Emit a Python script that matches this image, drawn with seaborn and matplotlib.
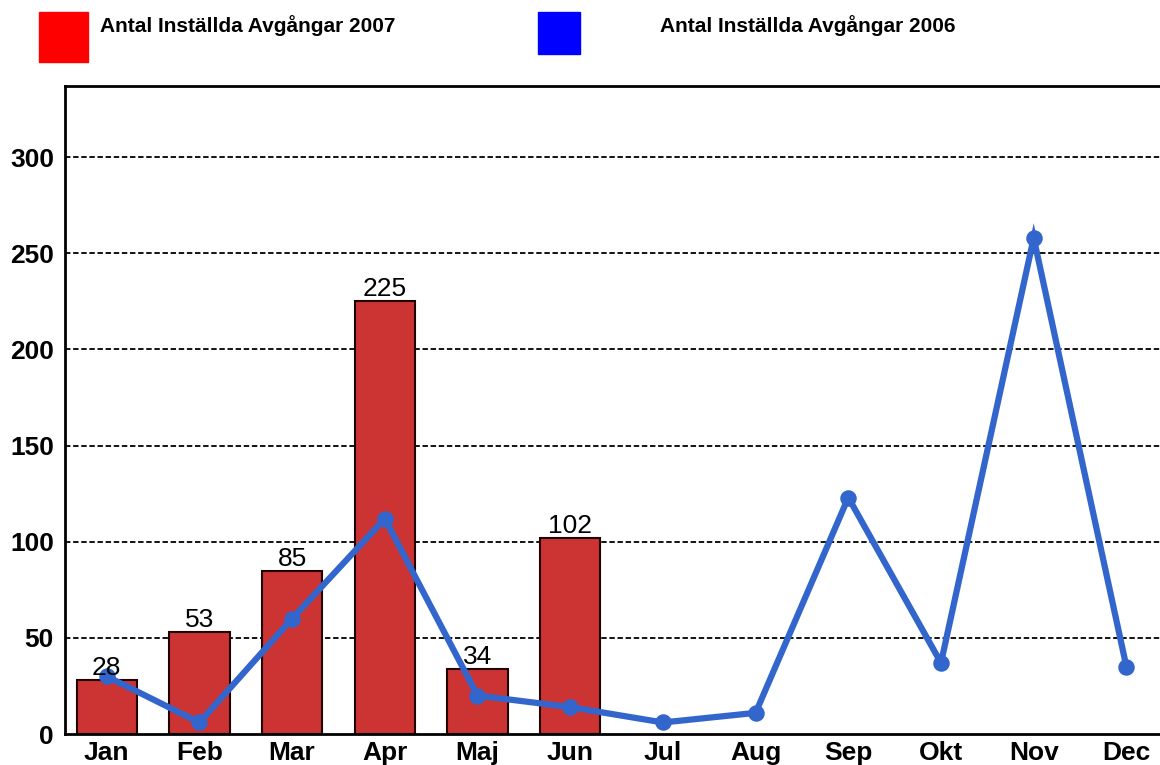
import matplotlib
matplotlib.use("Agg")
import matplotlib.pyplot as plt
import seaborn as sns
import pandas as pd
from matplotlib.patches import Rectangle

months = ["Jan", "Feb", "Mar", "Apr", "Maj", "Jun", "Jul", "Aug", "Sep", "Okt", "Nov", "Dec"]
months_2007 = ["Jan", "Feb", "Mar", "Apr", "Maj", "Jun"]
cancelled_2007 = [28, 53, 85, 225, 34, 102]
cancelled_2006 = [30, 6, 60, 112, 20, 14, 6, 11, 123, 37, 258, 35]
yticks = [0, 50, 100, 150, 200, 250, 300]

sns.set_style("white")
plt.rcParams["font.family"] = ["Liberation Sans", "DejaVu Sans"]
plt.rcParams["text.color"] = "black"
plt.rcParams["xtick.color"] = "black"
plt.rcParams["ytick.color"] = "black"

df07 = pd.DataFrame({"month": months_2007, "value": cancelled_2007})
df06 = pd.DataFrame({"month": months, "value": cancelled_2006})

fig = plt.figure(figsize=(11.6, 7.65), dpi=100)
ax = fig.add_axes([0.056, 0.0405, 0.951, 0.847])

sns.barplot(data=df07, x="month", y="value", order=months, color="#CC3333",
            saturation=1, width=0.65, edgecolor="#220000", linewidth=1.5, ax=ax)
ax.bar_label(ax.containers[0], fontsize=19, padding=0, color="black")

sns.pointplot(data=df06, x="month", y="value", order=months, color="#3366CC",
              markers="o", markersize=8.5, linewidth=4.5, ax=ax)
for ln in ax.lines:
    ln.set_solid_joinstyle("miter")

ax.set_xlim(-0.45, 11.45)
ax.set_ylim(0, 337)
ax.set_yticks(yticks)
ax.set_xlabel("")
ax.set_ylabel("")
for y in yticks[1:]:
    ax.axhline(y, color="black", linestyle=(0, (3, 1.5)), linewidth=1.3, zorder=0.5)

ax.tick_params(axis="y", length=5, width=1.2, pad=3, labelsize=19, colors="black")
ax.tick_params(axis="x", length=0, pad=5, labelsize=19, colors="black")
for lab in ax.get_xticklabels() + ax.get_yticklabels():
    lab.set_fontweight("bold")
for side in ["left", "top", "bottom"]:
    ax.spines[side].set_color("black")
    ax.spines[side].set_linewidth(2)
ax.spines["right"].set_visible(False)

# legend
fig.add_artist(Rectangle((39 / 1160, 1 - 62 / 765), 49 / 1160, 50 / 765,
                         transform=fig.transFigure, color="#FF0000"))
fig.text(100 / 1160, 1 - 26 / 765, "Antal Inställda Avgångar 2007", fontsize=15,
         fontweight="bold", va="center", color="black")
fig.add_artist(Rectangle((538 / 1160, 1 - 54 / 765), 42 / 1160, 42 / 765,
                         transform=fig.transFigure, color="#0000FF"))
fig.text(660 / 1160, 1 - 26 / 765, "Antal Inställda Avgångar 2006", fontsize=15,
         fontweight="bold", va="center", color="black")

fig.savefig("out.png", dpi=100)
